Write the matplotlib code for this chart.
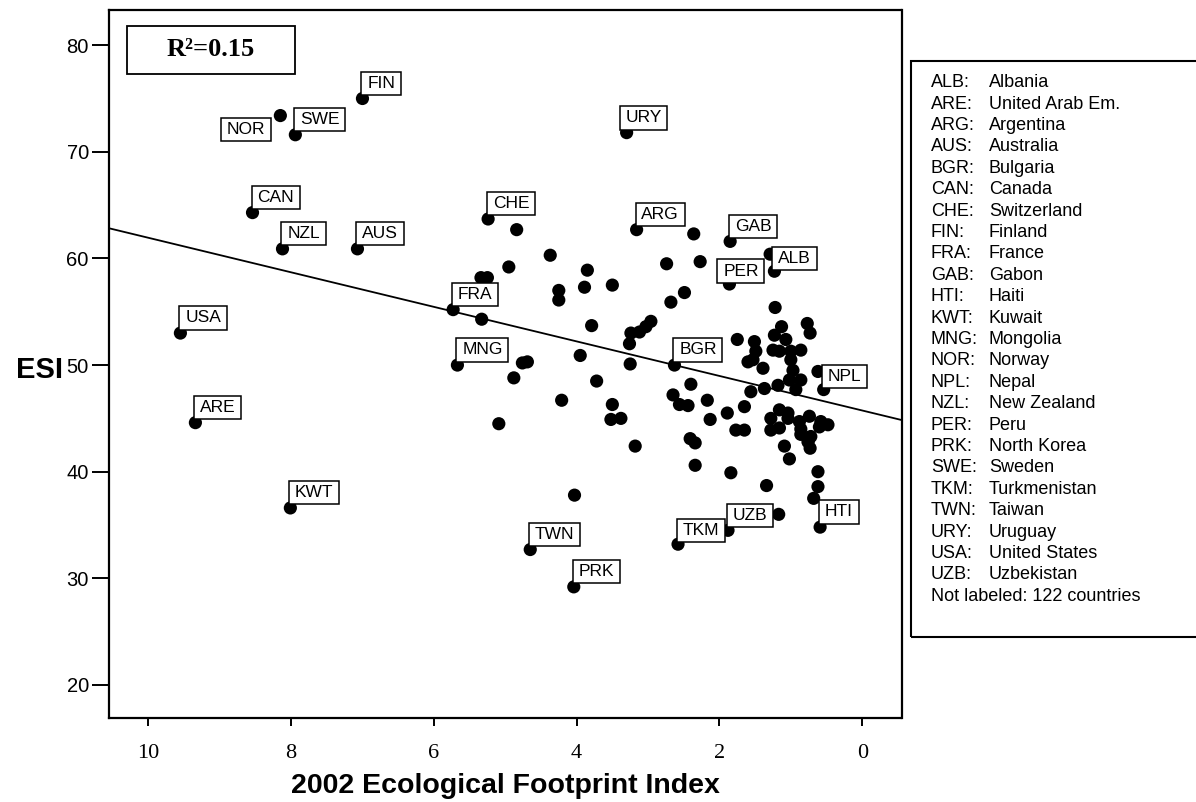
import matplotlib
matplotlib.use("Agg")
import matplotlib.pyplot as plt
from matplotlib.patches import Rectangle
from matplotlib.path import Path
import numpy as np

# ---------------- data ----------------
label_codes = ["ALB", "ARE", "ARG", "AUS", "BGR", "CAN", "CHE", "FIN", "FRA", "GAB", "HTI", "KWT",
               "MNG", "NOR", "NPL", "NZL", "PER", "PRK", "SWE", "TKM", "TWN", "URY", "USA", "UZB"]
label_x = [1.23, 9.34, 3.16, 7.07, 2.63, 8.54, 5.24, 7.00, 5.73, 1.85, 0.59, 8.01,
           5.67, 8.15, 0.54, 8.12, 1.86, 4.04, 7.94, 2.58, 4.65, 3.30, 9.55, 1.88]
label_y = [58.8, 44.6, 62.7, 60.9, 50.0, 64.3, 63.7, 75.0, 55.2, 61.6, 34.8, 36.6,
           50.0, 73.4, 47.7, 60.9, 57.6, 29.2, 71.6, 33.2, 32.7, 71.8, 53.0, 34.5]

legend_names = ["Albania", "United Arab Em.", "Argentina", "Australia", "Bulgaria", "Canada",
                "Switzerland", "Finland", "France", "Gabon", "Haiti", "Kuwait", "Mongolia",
                "Norway", "Nepal", "New Zealand", "Peru", "North Korea", "Sweden",
                "Turkmenistan", "Taiwan", "Uruguay", "United States", "Uzbekistan"]
legend_note = "Not labeled: 122 countries"

other_x = [4.84, 4.37, 4.95, 5.34, 5.25, 3.85, 3.50, 3.89, 4.25, 4.25,
           2.74, 2.36, 2.27, 2.49, 2.68, 5.33, 3.79, 2.96, 3.03, 3.12,
           3.24, 3.26, 1.75, 1.22, 0.77, 0.73, 0.62, 3.95, 3.25, 4.76,
           4.69, 4.88, 3.72, 4.21, 5.09, 3.50, 3.52, 3.38, 3.18, 2.40,
           2.65, 2.56, 2.44, 2.17, 1.89, 2.13, 1.65, 1.77, 1.65, 2.41,
           2.34, 2.34, 1.84, 1.34, 4.03, 1.17, 0.62, 0.62, 0.68, 0.73,
           0.86, 0.75, 1.09, 1.02, 1.29, 1.51, 1.49, 1.13, 1.23, 1.07,
           1.25, 1.16, 1.00, 0.86, 1.53, 1.39, 1.00, 0.97, 0.86, 1.02,
           1.18, 1.37, 1.56, 0.93, 1.16, 1.28, 1.04, 1.28, 1.16, 0.88,
           0.74, 0.58, 0.48, 0.86, 0.72, 1.04, 0.60, 0.76, 1.60]
other_y = [62.7, 60.3, 59.2, 58.2, 58.2, 58.9, 57.5, 57.3, 57.0, 56.1,
           59.5, 62.3, 59.7, 56.8, 55.9, 54.3, 53.7, 54.1, 53.6, 53.1,
           53.0, 52.0, 52.4, 55.4, 53.9, 53.0, 49.4, 50.9, 50.1, 50.2,
           50.3, 48.8, 48.5, 46.7, 44.5, 46.3, 44.9, 45.0, 42.4, 48.2,
           47.2, 46.3, 46.2, 46.7, 45.5, 44.9, 46.1, 43.9, 43.9, 43.1,
           42.7, 40.6, 39.9, 38.7, 37.8, 36.0, 40.0, 38.6, 37.5, 42.2,
           43.5, 43.0, 42.4, 41.2, 60.4, 52.2, 51.3, 53.6, 52.8, 52.4,
           51.4, 51.3, 51.3, 51.4, 50.5, 49.7, 50.5, 49.5, 48.6, 48.6,
           48.1, 47.8, 47.5, 47.7, 45.8, 45.0, 45.0, 43.9, 44.1, 44.7,
           45.2, 44.7, 44.4, 44.0, 43.3, 45.5, 44.2, 42.8, 50.3]

fit_intercept = 45.74
fit_slope = 1.62
r2_text = "R\u00b2=0.15"

x_ticks = [0, 2, 4, 6, 8, 10]
y_ticks = [20, 30, 40, 50, 60, 70, 80]

# ---------------- figure ----------------
W, H = 1196, 802
fig = plt.figure(figsize=(W / 100, H / 100), dpi=100)
ax_l, ax_r, ax_t, ax_b = 109, 901.5, 10, 718
ax = fig.add_axes([ax_l / W, 1 - ax_b / H, (ax_r - ax_l) / W, (ax_b - ax_t) / H])
ax.set_xlim(10.55, -0.55)
ax.set_ylim(16.9, 83.3)

for s in ax.spines.values():
    s.set_linewidth(1.6)

# regression line
xl = np.array(ax.get_xlim())
ax.plot(xl, fit_intercept + fit_slope * xl, color="black", lw=1.3, zorder=2)

# points
ax.scatter(other_x, other_y, s=90, color="black", edgecolors="none", zorder=3)
ax.scatter(label_x, label_y, s=90, color="black", edgecolors="none", zorder=3)

# label boxes with separate horizontal / vertical padding
PADX, PADY = 0.33, 0.24


def label_box(x0, y0, width, height, mutation_size):
    px, py = PADX * mutation_size, PADY * mutation_size
    verts = [(x0 - px, y0 - py), (x0 + width + px, y0 - py),
             (x0 + width + px, y0 + height + py), (x0 - px, y0 + height + py),
             (x0 - px, y0 - py)]
    return Path(verts, closed=True)


fs_lab = 12.5
fs_px = fs_lab * 100 / 72
padx_px, pady_px = PADX * fs_px, PADY * fs_px
special = {"NOR": ("right", "top", -9, -2), "PER": ("left", "bottom", -12, 1.3),
           "URY": ("left", "bottom", -7, 3), "ALB": ("left", "bottom", -2, 1.4),
           "NPL": ("left", "bottom", -1.7, 1.6), "TKM": ("left", "bottom", -1, 2)}
for c, x, y in zip(label_codes, label_x, label_y):
    ha, va, dx, dy = special.get(c, ("left", "bottom", -1, 3.5))
    ox = dx + padx_px if ha == "left" else dx - padx_px
    oy = dy + pady_px if va == "bottom" else dy - pady_px
    ax.annotate(c, xy=(x, y), xytext=(ox, oy), textcoords="offset pixels",
                ha=ha, va=va, fontsize=fs_lab, family="Liberation Sans",
                bbox=dict(boxstyle=label_box, fc="white", ec="black", lw=1.1),
                zorder=4)

# ticks
ax.set_xticks(x_ticks)
ax.set_xticklabels([str(t) for t in x_ticks], family="Liberation Serif", fontsize=16)
ax.set_yticks(y_ticks)
ax.set_yticklabels([str(t) for t in y_ticks], family="Liberation Sans", fontsize=14.5)
ax.tick_params(axis="y", direction="out", length=12.5, width=1.4, pad=2)
ax.tick_params(axis="x", direction="out", length=6, width=1.4, pad=13)

# axis labels
fig.text(505 / W, 1 - 786 / H, "2002 Ecological Footprint Index", ha="center", va="center",
         fontsize=20.5, fontweight="bold", family="Liberation Sans")
fig.text(63 / W, 1 - 370 / H, "ESI", ha="right", va="center",
         fontsize=21, fontweight="bold", family="Liberation Sans")

# R^2 box
bx0, bx1, by0, by1 = 127, 295, 26, 74
fig.patches.append(Rectangle((bx0 / W, 1 - by1 / H), (bx1 - bx0) / W, (by1 - by0) / H,
                             transform=fig.transFigure, fill=False, ec="black", lw=1.3, zorder=5))
fig.text((bx0 + bx1) / 2 / W, 1 - (by0 + by1) / 2 / H, r2_text, ha="center", va="center",
         fontsize=19, fontweight="bold", family="Liberation Serif", zorder=6)

# legend box
lx0, ly0, ly1 = 911, 60.5, 636.5
fig.patches.append(Rectangle((lx0 / W, 1 - ly1 / H), (W + 10 - lx0) / W, (ly1 - ly0) / H,
                             transform=fig.transFigure, fill=False, ec="black", lw=1.5,
                             clip_on=False))
y0, dy = 82.7, 21.4
for i, (c, n) in enumerate(zip(label_codes, legend_names)):
    yy = 1 - (y0 + i * dy) / H
    fig.text(931 / W, yy, c + ":", ha="left", va="center", fontsize=13, family="Liberation Sans")
    fig.text(989 / W, yy, n, ha="left", va="center", fontsize=13, family="Liberation Sans")
fig.text(931 / W, 1 - (y0 + len(label_codes) * dy) / H, legend_note, ha="left", va="center",
         fontsize=13, family="Liberation Sans")

fig.savefig("out.png", dpi=100)
